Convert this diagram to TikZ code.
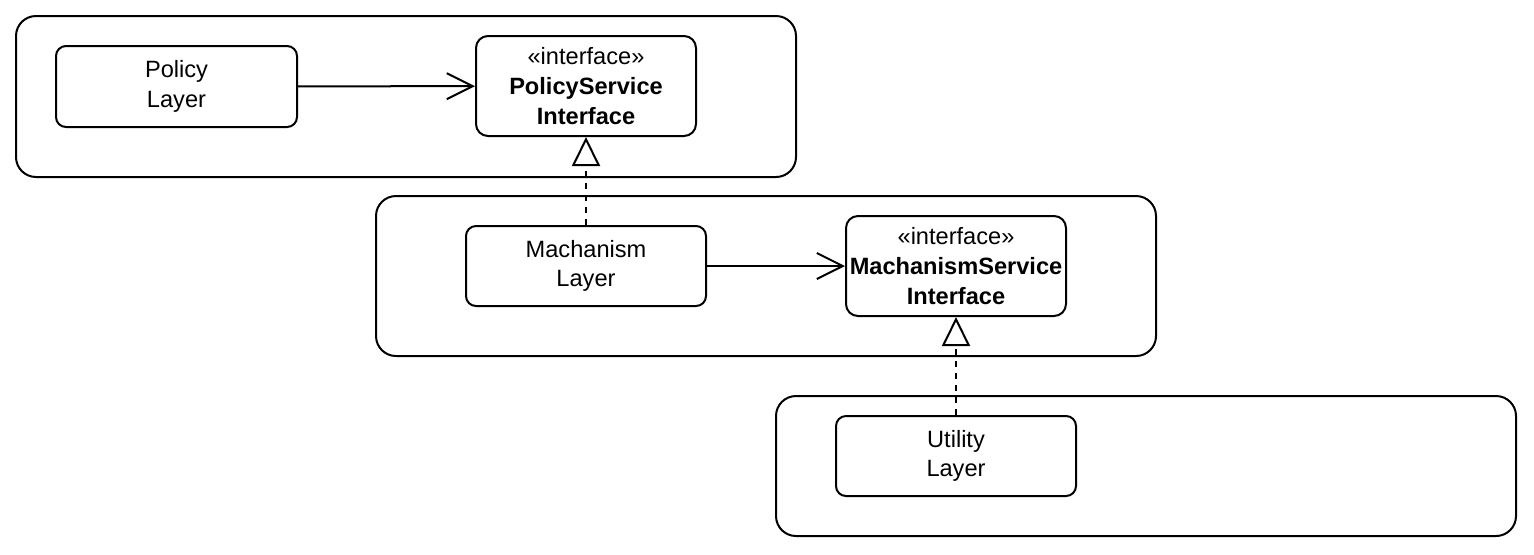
\documentclass[tikz,border=0pt]{standalone}
\usepackage{fontspec}
\setmainfont{Liberation Sans}
\usetikzlibrary{positioning,arrows.meta}

\begin{document}
\begin{tikzpicture}[x=0.5pt, y=-0.5pt, line width=1pt,
        layer/.style={draw, rounded corners=10pt, inner sep=0pt},
        unit/.style={draw, rounded corners=5pt, align=center, inner sep=0pt,
            font=\fontsize{11.8}{14.8}\selectfont},
        uses/.style={-{Straight Barb[length=13pt, width=13pt]}},
        realizes/.style={dash pattern=on 3pt off 3pt, -{Triangle[open, length=14.5pt, width=14pt, fill=white]}},
        ]
        \useasboundingbox (0,0) rectangle (1534,554);
        % layers
        \node[layer, minimum width=390pt, minimum height=80.5pt] (policyBox) at (406,96.5) {};
        \node[layer, minimum width=390pt, minimum height=80pt] (machBox) at (766,276) {};
        \node[layer, minimum width=370pt, minimum height=70pt] (utilBox) at (1146,466) {};
        % units
        \node[unit, minimum width=120.5pt, minimum height=40.5pt] (policy) at (176.5,86.5) {Policy\\Layer};
        \node[unit, rounded corners=6pt, minimum width=110pt, minimum height=50pt] (policyIf) at (586,86) {«interface»\\\textbf{PolicyService}\\\textbf{Interface}};
        \node[unit, minimum width=120pt, minimum height=40pt] (mach) at (586,266) {Machanism\\Layer};
        \node[unit, rounded corners=6pt, minimum width=110pt, minimum height=50pt] (machIf) at (956,266) {«interface»\\\textbf{MachanismService}\\\textbf{Interface}};
        \node[unit, minimum width=120pt, minimum height=40pt] (util) at (956,456) {Utility\\Layer};
        % connectors
        \draw[uses] (policy) -- (policyIf);
        \draw[uses] (mach) -- (machIf);
        \draw[realizes] (mach) -- (policyIf);
        \draw[realizes] (util) -- (machIf);
\end{tikzpicture}
\end{document}
